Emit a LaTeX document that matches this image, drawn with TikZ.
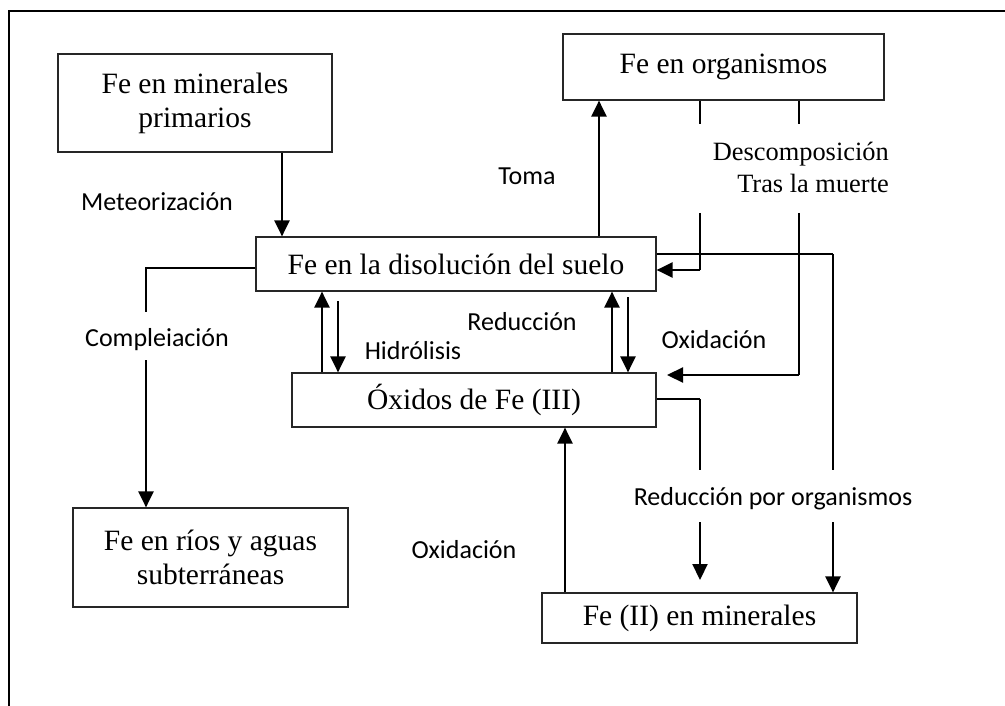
\documentclass[tikz,border=0pt]{standalone}
\usepackage{fontspec}
\setmainfont{Liberation Serif}
\newfontfamily\lblfont{Carlito}
\usetikzlibrary{arrows.meta}
\begin{document}
\begin{tikzpicture}[x=1pt,y=-1pt,
 box/.style={draw=black!85, line width=1.2pt, inner sep=0pt, align=center, font=\fontsize{29.5}{34}\selectfont},
 lbl/.style={font=\lblfont\fontsize{26}{30}\selectfont, inner sep=0pt},
 slbl/.style={font=\fontsize{26.4}{32}\selectfont, inner sep=0pt, align=right},
 thinline/.style={line width=1.2pt},
 thickline/.style={line width=2.2pt},
 arr/.style={line width=2.2pt, -{Triangle[length=16pt,width=15pt]}}]
\useasboundingbox (0,0) rectangle (1005,706);
\draw[line width=2.5pt] (9,706) -- (9,11) -- (1005,11);

% boxes
\node[box, minimum width=274pt, minimum height=98pt] (prim) at (195,103) {Fe en minerales\\primarios};
\node[box, minimum width=400pt, minimum height=54pt] (suelo) at (456,264) {Fe en la disolución del suelo};
\node[box, minimum width=321pt, minimum height=66pt] (org) at (723.5,67) {Fe en organismos};
\node[box, minimum width=364pt, minimum height=54pt] (oxi) at (474,400) {Óxidos de Fe (III)};
\node[box, minimum width=275pt, minimum height=99pt] (rios) at (210.5,557.5) {Fe en ríos y aguas\\subterráneas};
\node[box, minimum width=315pt, minimum height=50pt] (fe2) at (699.5,618) {Fe (II) en minerales};

% labels
\node[lbl] (meteo) at (157,202) {Meteorización};
\node[lbl] (toma) at (527,176) {Toma};
\node[slbl, anchor=east] (desc) at (889,167) {Descomposición\\Tras la muerte};
\node[lbl] (comp) at (157,340) {Compleiación};
\node[lbl] (hidro) at (413,351) {Hidrólisis};
\node[lbl] (redu) at (522,322) {Reducción};
\node[lbl] (oxid1) at (714,340) {Oxidación};
\node[lbl] (redorg) at (773,499) {Reducción por organismos};
\node[lbl] (oxid2) at (464,550) {Oxidación};

% helper coordinates
\coordinate (a1) at (700,124);
\coordinate (a2) at (700,213);
\coordinate (a3) at (700,270);
\coordinate (b1) at (799,124);
\coordinate (b2) at (799,213);
\coordinate (b3) at (799,375);
\coordinate (b4) at (667,375);
\coordinate (c1) at (833,254);
\coordinate (c2) at (833,470);
\coordinate (c3) at (833,522);
\coordinate (d1) at (700,399);
\coordinate (d2) at (700,470);
\coordinate (d3) at (700,522);
\coordinate (d4) at (700,580);
\coordinate (e1) at (146,268);
\coordinate (e2) at (146,312);
\coordinate (e3) at (146,360);
\coordinate (h2) at (338,301);
\coordinate (r2) at (628,297);

% connectors
\draw[arr] (prim.south -| 282,0) -- (suelo.north -| 282,0);
\draw[arr] (suelo.north -| 599,0) -- (org.south -| 599,0);

\draw[thinline] (org.south -| a1) -- (a1);
\draw[thinline] (a2) -- (a3);
\draw[arr] (a3) -- (suelo.east |- a3);

\draw[thinline] (org.south -| b1) -- (b1);
\draw[thinline] (b2) -- (b3);
\draw[arr] (b3) -- (b4);

\draw[thinline] (suelo.east |- c1) -- (c1);
\draw[thickline] (c1) -- (c2);
\draw[arr] (c3) -- (fe2.north -| c3);

\draw[thinline] (oxi.east |- d1) -- (d1);
\draw[thickline] (d1) -- (d2);
\draw[arr] (d3) -- (d4);

\draw[arr] (fe2.north -| 565,0) -- (oxi.south -| 565,0);

\draw[arr] (oxi.north -| 322,0) -- (suelo.south -| 322,0);
\draw[arr] (h2) -- (oxi.north -| h2);
\draw[arr] (oxi.north -| 612,0) -- (suelo.south -| 612,0);
\draw[arr] (r2) -- (oxi.north -| r2);

\draw[thinline] (suelo.west |- e1) -- (e1) -- (e2);
\draw[arr] (e3) -- (rios.north -| e3);
\end{tikzpicture}
\end{document}
